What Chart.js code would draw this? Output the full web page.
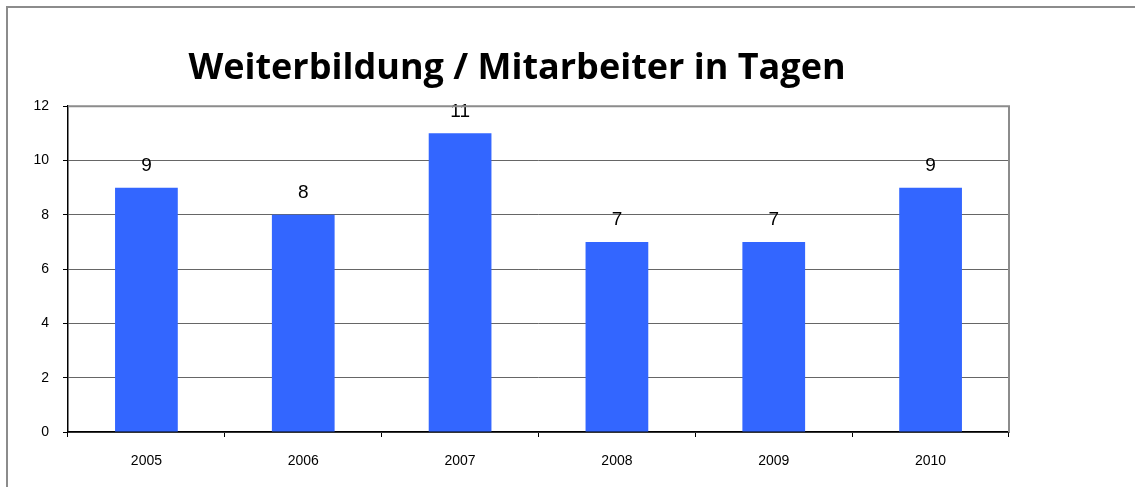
<!DOCTYPE html>
<html lang="de">
<head>
  <meta charset="UTF-8" />
  <title>Weiterbildung / Mitarbeiter in Tagen</title>
  <script src="https://cdn.jsdelivr.net/npm/chart.js"></script>
  <style>
    html, body {
      margin: 0;
      overflow: hidden;
      background: #fff;
    }
    canvas {
      display: block;
    }
  </style>
</head>
<body>
  <canvas id="trainingChart" width="1135" height="487"></canvas>

  <script>
    const years = ["2005", "2006", "2007", "2008", "2009", "2010"];
    const daysPerEmployee = [9, 8, 11, 7, 7, 9];
    const yTicks = [0, 2, 4, 6, 8, 10, 12];

    // value labels above each bar
    const valueLabels = {
      id: "valueLabels",
      afterDatasetsDraw(chart) {
        const ctx = chart.ctx;
        const meta = chart.getDatasetMeta(0);
        ctx.save();
        ctx.font = "19px 'Liberation Sans', Arial, sans-serif";
        ctx.fillStyle = "#000";
        ctx.textAlign = "center";
        ctx.textBaseline = "middle";
        meta.data.forEach((bar, i) => {
          ctx.fillText(String(daysPerEmployee[i]), bar.x, bar.y - 22);
        });
        ctx.restore();
      }
    };

    // gray outer frame (top + left) and plot frame (top + right)
    const frames = {
      id: "frames",
      beforeDraw(chart) {
        const ctx = chart.ctx;
        ctx.save();
        ctx.strokeStyle = "#8c8c8c";
        ctx.lineWidth = 2;
        ctx.beginPath();
        ctx.moveTo(7, chart.height);
        ctx.lineTo(7, 7);
        ctx.lineTo(chart.width, 7);
        ctx.stroke();
        ctx.restore();
      },
      afterDraw(chart) {
        const a = chart.chartArea;
        const ctx = chart.ctx;
        ctx.save();
        ctx.strokeStyle = "#8c8c8c";
        ctx.lineWidth = 2;
        ctx.beginPath();
        ctx.moveTo(a.left, a.top);
        ctx.lineTo(a.right, a.top);
        ctx.lineTo(a.right, a.bottom);
        ctx.stroke();
        ctx.restore();
      }
    };

    const tickFont = { family: "'Liberation Sans', Arial, sans-serif", size: 14 };

    new Chart(document.getElementById("trainingChart"), {
      type: "bar",
      data: {
        labels: years,
        datasets: [{
          label: "Tage",
          data: daysPerEmployee,
          backgroundColor: "#3366ff",
          categoryPercentage: 1,
          barPercentage: 0.4
        }]
      },
      options: {
        responsive: false,
        animation: false,
        layout: { padding: { left: 25, right: 126, top: 0, bottom: 0 } },
        scales: {
          x: {
            afterFit: s => { s.height = 55; },
            grid: { drawOnChartArea: false, color: "#000", tickLength: 5 },
            border: { color: "#000", width: 1.5 },
            ticks: { color: "#000", font: tickFont, padding: 16 }
          },
          y: {
            min: 0,
            max: 12,
            afterFit: s => { s.width = 43; },
            afterBuildTicks: s => { s.ticks = yTicks.map(v => ({ value: v })); },
            grid: { color: "#666", lineWidth: 1, tickLength: 5, tickColor: "#000" },
            border: { color: "#000", width: 1.5 },
            ticks: { color: "#000", font: tickFont, padding: 14 }
          }
        },
        plugins: {
          legend: { display: false },
          tooltip: { enabled: false },
          title: {
            display: true,
            text: "Weiterbildung / Mitarbeiter in Tagen",
            color: "#000",
            font: { family: "'Open Sans', Lato, sans-serif", size: 36, weight: "bold" },
            padding: { top: 47, bottom: 16 }
          }
        }
      },
      plugins: [valueLabels, frames]
    });
  </script>
</body>
</html>
